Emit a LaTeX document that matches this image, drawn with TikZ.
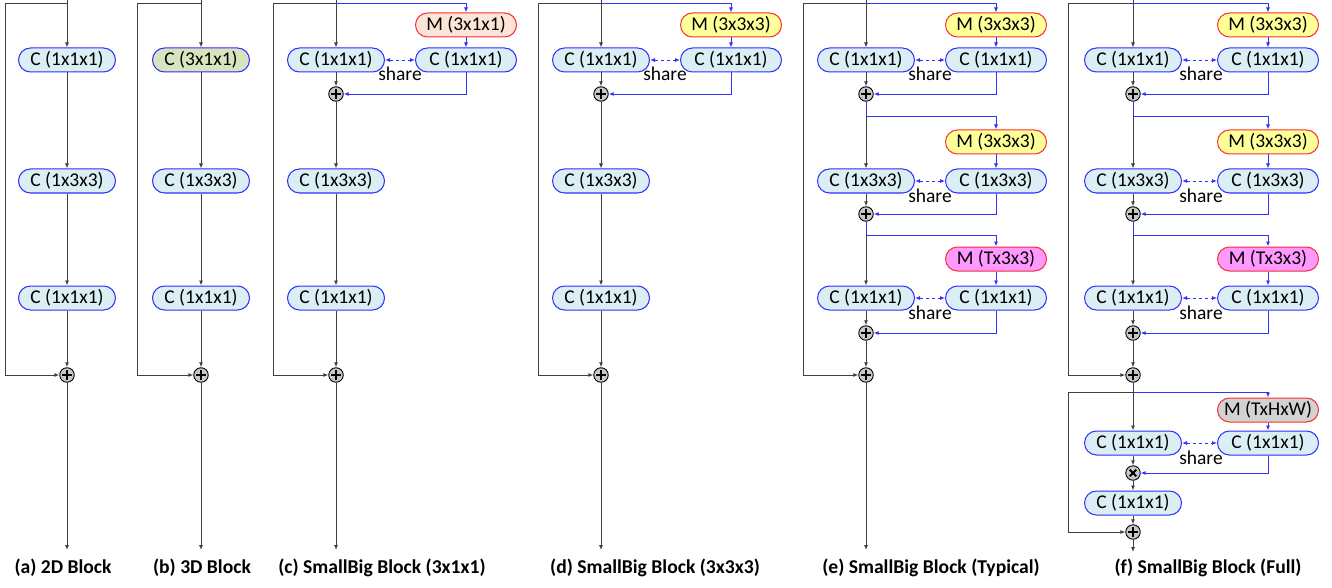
\documentclass[tikz,border=0pt]{standalone}
\usepackage{fontspec}
\setmainfont{Carlito}
\usetikzlibrary{arrows.meta}

\definecolor{cblue}{RGB}{45,45,255}
\definecolor{mred}{RGB}{250,45,45}
\definecolor{cfill}{RGB}{218,238,243}
\definecolor{cgreen}{RGB}{215,228,189}
\definecolor{mpeach}{RGB}{252,228,214}
\definecolor{myellow}{RGB}{255,255,153}
\definecolor{mpink}{RGB}{255,153,255}
\definecolor{mgray}{RGB}{210,210,210}
\definecolor{lgray}{RGB}{64,64,64}
\definecolor{lblue}{RGB}{50,50,255}
\definecolor{opgray}{RGB}{200,200,200}

\tikzset{
	cbox/.style={draw=cblue, fill=cfill, line width=1pt, rounded corners=12pt,
		minimum width=97pt, minimum height=24pt, inner sep=1pt,
		font=\fontsize{19.5}{22}\selectfont},
	rbox/.style={cbox, minimum width=101pt},
	mbox/.style={rbox, draw=mred},
	gline/.style={draw=lgray, line width=0.9pt},
	flow/.style={gline, -{Latex[length=5pt,width=4pt]}},
	bline/.style={draw=lblue, line width=0.9pt},
	bflow/.style={bline, -{Latex[length=5pt,width=4pt]}},
	shared/.style={bline, dashed, {Latex[length=5pt,width=4pt]}-{Latex[length=5pt,width=4pt]}},
	sharetxt/.style={inner sep=0pt, font=\fontsize{19.5}{22}\selectfont},
	addop/.style={circle, draw=black, fill=opgray, line width=0.9pt,
		minimum size=14.5pt, inner sep=0pt,
		path picture={\draw[line width=2pt]
			([xshift=-4.6pt]path picture bounding box.center) -- ([xshift=4.6pt]path picture bounding box.center)
			([yshift=-4.6pt]path picture bounding box.center) -- ([yshift=4.6pt]path picture bounding box.center);}},
	mulop/.style={circle, draw=black, fill=opgray, line width=0.9pt,
		minimum size=14.5pt, inner sep=0pt,
		path picture={\draw[line width=1.8pt]
			([shift={(-3.3pt,-3.3pt)}]path picture bounding box.center) -- ([shift={(3.3pt,3.3pt)}]path picture bounding box.center)
			([shift={(-3.3pt,3.3pt)}]path picture bounding box.center) -- ([shift={(3.3pt,-3.3pt)}]path picture bounding box.center);}},
	caption/.style={font=\fontsize{19.6}{22}\selectfont\bfseries}
}

\begin{document}
\begin{tikzpicture}[x=1pt,y=-1pt]
		\useasboundingbox (0,0) rectangle (1332,588);
		
		% (a) 2D block
		\coordinate (ain) at (67,0);
		\coordinate (aby) at (5,3);
		\coordinate (aout) at (67,550);
		\node[cbox] (a1) at (67,60) {C (1x1x1)};
		\node[cbox] (a2) at (67,181) {C (1x3x3)};
		\node[cbox] (a3) at (67,298) {C (1x1x1)};
		\node[addop] (as) at (67,375) {};
		\draw[flow] (ain) -- (a1);
		\draw[flow] (a1) -- (a2);
		\draw[flow] (a2) -- (a3);
		\draw[flow] (a3) -- (as);
		\draw[flow] (ain |- aby) -- (aby) |- (as);
		\draw[flow] (as) -- (aout);
		\node[caption] (acap) at (63,568) {(a) 2D Block};
		
		% (b) 3D block
		\coordinate (bin) at (201,0);
		\coordinate (bby) at (137,3);
		\coordinate (bout) at (201,550);
		\node[cbox, fill=cgreen] (b1) at (201,60) {C (3x1x1)};
		\node[cbox] (b2) at (201,181) {C (1x3x3)};
		\node[cbox] (b3) at (201,298) {C (1x1x1)};
		\node[addop] (bs) at (201,375) {};
		\draw[flow] (bin) -- (b1);
		\draw[flow] (b1) -- (b2);
		\draw[flow] (b2) -- (b3);
		\draw[flow] (b3) -- (bs);
		\draw[flow] (bin |- bby) -- (bby) |- (bs);
		\draw[flow] (bs) -- (bout);
		\node[caption] (bcap) at (202,568) {(b) 3D Block};
		
		% (c) SmallBig 3x1x1
		\coordinate (cin) at (336,0);
		\coordinate (cby) at (273,3);
		\coordinate (cout) at (336,550);
		\node[mbox, fill=mpeach] (cm1) at (466,25) {M (3x1x1)};
		\node[cbox] (c1) at (336,60) {C (1x1x1)};
		\node[rbox] (c1r) at (466,60) {C (1x1x1)};
		\node[sharetxt] (csh1) at (400,74) {share};
		\node[addop] (cs1) at (336,94) {};
		\node[cbox] (c2) at (336,181) {C (1x3x3)};
		\node[cbox] (c3) at (336,298) {C (1x1x1)};
		\node[addop] (cs) at (336,375) {};
		\draw[flow] (cin) -- (c1);
		\draw[gline] (cin |- cby) -- (cby);
		\draw[flow] (cby) |- (cs);
		\draw[bflow] (cin |- cby) -| (cm1);
		\draw[bflow] (cm1) -- (c1r);
		\draw[shared] (c1) -- (c1r);
		\draw[bflow] (c1r) |- (cs1);
		\draw[flow] (c1) -- (cs1);
		\draw[flow] (cs1) -- (c2);
		\draw[flow] (c2) -- (c3);
		\draw[flow] (c3) -- (cs);
		\draw[flow] (cs) -- (cout);
		\node[caption] (ccap) at (382,568) {(c) SmallBig Block (3x1x1)};
		
		% (d) SmallBig 3x3x3
		\coordinate (din) at (601,0);
		\coordinate (dby) at (538,3);
		\coordinate (dout) at (601,550);
		\node[mbox, fill=myellow] (dm1) at (731,25) {M (3x3x3)};
		\node[cbox] (d1) at (601,60) {C (1x1x1)};
		\node[rbox] (d1r) at (731,60) {C (1x1x1)};
		\node[sharetxt] (dsh1) at (665,74) {share};
		\node[addop] (ds1) at (601,94) {};
		\node[cbox] (d2) at (601,181) {C (1x3x3)};
		\node[cbox] (d3) at (601,298) {C (1x1x1)};
		\node[addop] (ds) at (601,375) {};
		\draw[flow] (din) -- (d1);
		\draw[gline] (din |- dby) -- (dby);
		\draw[flow] (dby) |- (ds);
		\draw[bflow] (din |- dby) -| (dm1);
		\draw[bflow] (dm1) -- (d1r);
		\draw[shared] (d1) -- (d1r);
		\draw[bflow] (d1r) |- (ds1);
		\draw[flow] (d1) -- (ds1);
		\draw[flow] (ds1) -- (d2);
		\draw[flow] (d2) -- (d3);
		\draw[flow] (d3) -- (ds);
		\draw[flow] (ds) -- (dout);
		\node[caption] (dcap) at (655,568) {(d) SmallBig Block (3x3x3)};
		
		% (e) SmallBig typical
		\coordinate (ein) at (866,0);
		\coordinate (eby) at (803,3);
		\coordinate (eb1) at (866,116);
		\coordinate (eb2) at (866,235);
		\coordinate (eout) at (866,550);
		\node[mbox, fill=myellow] (em1) at (996,25) {M (3x3x3)};
		\node[cbox] (e1) at (866,60) {C (1x1x1)};
		\node[rbox] (e1r) at (996,60) {C (1x1x1)};
		\node[sharetxt] (esh1) at (930,74) {share};
		\node[addop] (es1) at (866,94) {};
		\node[mbox, fill=myellow] (em2) at (996,142) {M (3x3x3)};
		\node[cbox] (e2) at (866,181) {C (1x3x3)};
		\node[rbox] (e2r) at (996,181) {C (1x3x3)};
		\node[sharetxt] (esh2) at (930,196) {share};
		\node[addop] (es2) at (866,214) {};
		\node[mbox, fill=mpink] (em3) at (996,259) {M (Tx3x3)};
		\node[cbox] (e3) at (866,298) {C (1x1x1)};
		\node[rbox] (e3r) at (996,298) {C (1x1x1)};
		\node[sharetxt] (esh3) at (930,313) {share};
		\node[addop] (es3) at (866,333) {};
		\node[addop] (es) at (866,375) {};
		\draw[flow] (ein) -- (e1);
		\draw[gline] (ein |- eby) -- (eby);
		\draw[flow] (eby) |- (es);
		\draw[bflow] (ein |- eby) -| (em1);
		\draw[bflow] (em1) -- (e1r);
		\draw[shared] (e1) -- (e1r);
		\draw[bflow] (e1r) |- (es1);
		\draw[flow] (e1) -- (es1);
		\draw[bflow] (es1) -- (eb1) -| (em2);
		\draw[flow] (eb1) -- (e2);
		\draw[bflow] (em2) -- (e2r);
		\draw[shared] (e2) -- (e2r);
		\draw[bflow] (e2r) |- (es2);
		\draw[flow] (e2) -- (es2);
		\draw[bflow] (es2) -- (eb2) -| (em3);
		\draw[flow] (eb2) -- (e3);
		\draw[bflow] (em3) -- (e3r);
		\draw[shared] (e3) -- (e3r);
		\draw[bflow] (e3r) |- (es3);
		\draw[flow] (e3) -- (es3);
		\draw[flow] (es3) -- (es);
		\draw[flow] (es) -- (eout);
		\node[caption] (ecap) at (931,568) {(e) SmallBig Block (Typical)};
		
		% (f) SmallBig full
		\coordinate (fin) at (1133,0);
		\coordinate (fby) at (1068,3);
		\coordinate (fb1) at (1133,116);
		\coordinate (fb2) at (1133,235);
		\coordinate (fb3) at (1133,392);
		\coordinate (fby2) at (1068,392);
		\coordinate (fout) at (1133,552);
		\node[mbox, fill=myellow] (fm1) at (1268,25) {M (3x3x3)};
		\node[cbox] (f1) at (1133,60) {C (1x1x1)};
		\node[rbox] (f1r) at (1268,60) {C (1x1x1)};
		\node[sharetxt] (fsh1) at (1201,74) {share};
		\node[addop] (fs1) at (1133,94) {};
		\node[mbox, fill=myellow] (fm2) at (1268,142) {M (3x3x3)};
		\node[cbox] (f2) at (1133,181) {C (1x3x3)};
		\node[rbox] (f2r) at (1268,181) {C (1x3x3)};
		\node[sharetxt] (fsh2) at (1201,196) {share};
		\node[addop] (fs2) at (1133,214) {};
		\node[mbox, fill=mpink] (fm3) at (1268,259) {M (Tx3x3)};
		\node[cbox] (f3) at (1133,298) {C (1x1x1)};
		\node[rbox] (f3r) at (1268,298) {C (1x1x1)};
		\node[sharetxt] (fsh3) at (1201,313) {share};
		\node[addop] (fs3) at (1133,333) {};
		\node[addop] (fs) at (1133,375) {};
		\node[mbox, fill=mgray] (fm4) at (1268,410) {M (TxHxW)};
		\node[cbox] (f4) at (1133,443) {C (1x1x1)};
		\node[rbox] (f4r) at (1268,443) {C (1x1x1)};
		\node[sharetxt] (fsh4) at (1201,458) {share};
		\node[mulop] (fx) at (1133,473) {};
		\node[cbox] (f5) at (1133,503) {C (1x1x1)};
		\node[addop] (fsout) at (1133,532) {};
		\draw[flow] (fin) -- (f1);
		\draw[gline] (fin |- fby) -- (fby);
		\draw[flow] (fby) |- (fs);
		\draw[bflow] (fin |- fby) -| (fm1);
		\draw[bflow] (fm1) -- (f1r);
		\draw[shared] (f1) -- (f1r);
		\draw[bflow] (f1r) |- (fs1);
		\draw[flow] (f1) -- (fs1);
		\draw[bflow] (fs1) -- (fb1) -| (fm2);
		\draw[flow] (fb1) -- (f2);
		\draw[bflow] (fm2) -- (f2r);
		\draw[shared] (f2) -- (f2r);
		\draw[bflow] (f2r) |- (fs2);
		\draw[flow] (f2) -- (fs2);
		\draw[bflow] (fs2) -- (fb2) -| (fm3);
		\draw[flow] (fb2) -- (f3);
		\draw[bflow] (fm3) -- (f3r);
		\draw[shared] (f3) -- (f3r);
		\draw[bflow] (f3r) |- (fs3);
		\draw[flow] (f3) -- (fs3);
		\draw[flow] (fs3) -- (fs);
		\draw[gline] (fs) -- (fb3);
		\draw[gline] (fb3) -- (fby2);
		\draw[flow] (fby2) |- (fsout);
		\draw[bflow] (fb3) -| (fm4);
		\draw[flow] (fb3) -- (f4);
		\draw[bflow] (fm4) -- (f4r);
		\draw[shared] (f4) -- (f4r);
		\draw[bflow] (f4r) |- (fx);
		\draw[flow] (f4) -- (fx);
		\draw[flow] (fx) -- (f5);
		\draw[flow] (f5) -- (fsout);
		\draw[flow] (fsout) -- (fout);
		\node[caption] (fcap) at (1208,568) {(f) SmallBig Block (Full)};
	\end{tikzpicture}
\end{document}
